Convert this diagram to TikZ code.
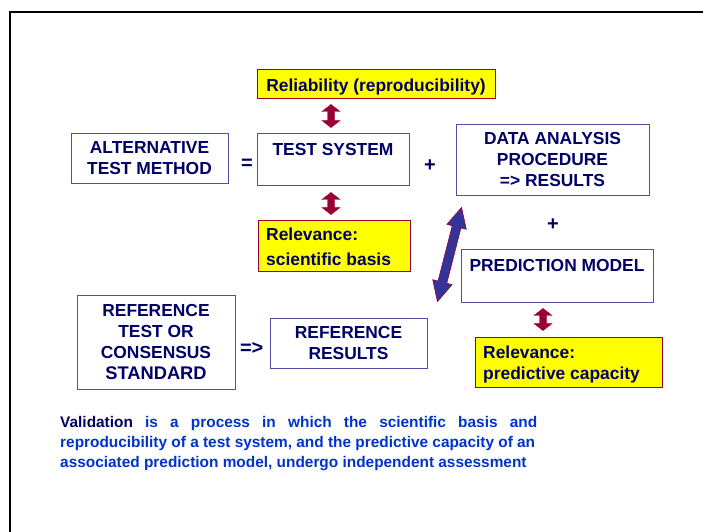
\documentclass[tikz,border=0pt]{standalone}
\usepackage{fontspec}
\setmainfont{Liberation Sans}
\usetikzlibrary{calc}

\definecolor{navy}{RGB}{0,0,102}
\definecolor{boxline}{RGB}{80,80,170}
\definecolor{darkred}{RGB}{153,0,51}
\definecolor{arrowblue}{RGB}{51,51,153}
\definecolor{textblue}{RGB}{0,51,204}
\definecolor{notebg}{RGB}{255,255,0}

\newcommand\boxfont{\fontsize{17.4}{21}\selectfont\bfseries}
\newcommand\bigboxfont{\fontsize{18.3}{21}\selectfont\bfseries}
\newcommand\symfont{\fontsize{20}{24}\selectfont\bfseries}
\newcommand\parfont{\fontsize{15.4}{20}\selectfont\bfseries}

% Fat double-headed arrow from #2 to #3:
% #1 style, #4 head length, #5 head half-width, #6 shaft half-width
\newcommand\fatdarrow[6]{%
  \filldraw[#1] (#2)
    -- ($(#2)!#4!(#3)!#5!90:(#3)$)
    -- ($(#2)!#4!(#3)!#6!90:(#3)$)
    -- ($(#3)!#4!(#2)!#6!-90:(#2)$)
    -- ($(#3)!#4!(#2)!#5!-90:(#2)$)
    -- (#3)
    -- ($(#3)!#4!(#2)!#5!90:(#2)$)
    -- ($(#3)!#4!(#2)!#6!90:(#2)$)
    -- ($(#2)!#4!(#3)!#6!-90:(#3)$)
    -- ($(#2)!#4!(#3)!#5!-90:(#3)$)
    -- cycle;}

\begin{document}
\begin{tikzpicture}[x=1pt,y=-1pt,
  box/.style={draw=boxline, line width=0.9pt, fill=white, inner sep=0pt,
              font=\boxfont, text=navy, align=center},
  notebox/.style={draw=darkred, line width=0.9pt, fill=notebg, inner sep=0pt},
  boxlabel/.style={inner sep=0pt, font=\boxfont, text=navy},
  sym/.style={inner sep=0pt, font=\symfont, text=navy, anchor=base},
  redarrow/.style={fill=darkred, draw=darkred, line width=0.4pt},
  bluearrow/.style={fill=arrowblue, draw=darkred, line width=0.6pt, line join=miter}]

\useasboundingbox (0,0) rectangle (703,531);
\fill[white] (0,0) rectangle (703,531);
% slide frame (only its top and left edges fall inside the page)
\draw[line width=2pt] (9.5,545) -- (9.5,11.5) -- (715,11.5);

% top row
\node[box, minimum width=157, minimum height=50] (atm) at (149.5,158) {ALTERNATIVE\\TEST METHOD};
\node[sym] (eq) at (247,169.5) {=};
\node[box, minimum width=152, minimum height=52] (ts) at (333,159) {};
\node[boxlabel, anchor=base] (tstext) at (333,155.7) {TEST SYSTEM};
\node[sym] (plus1) at (430,171) {+};
\node[box, minimum width=193, minimum height=71] (da) at (552.5,159.5) {DATA ANALYSIS\\PROCEDURE\\=> RESULTS};
\node[sym] (plus2) at (553,230) {+};
\node[box, minimum width=192, minimum height=53] (pm) at (557,275.5) {};
\node[boxlabel, anchor=base] (pmtext) at (557,271.7) {PREDICTION MODEL};

% yellow notes
\node[notebox, minimum width=238, minimum height=29] (rel) at (376,83.5) {};
\node[boxlabel, anchor=base] (reltext) at (376,91.7) {Reliability (reproducibility)};
\node[notebox, minimum width=152, minimum height=51] (rsb) at (334,245.5) {};
\node[boxlabel, anchor=base west] (rsbtext1) at (266,240) {Relevance:};
\node[boxlabel, anchor=base west] (rsbtext2) at (266,265) {scientific basis};
\node[notebox, minimum width=187, minimum height=50] (rpc) at (568.5,362) {};
\node[boxlabel, anchor=base west] (rpctext1) at (483,358) {Relevance:};
\node[boxlabel, anchor=base west] (rpctext2) at (483,379.5) {predictive capacity};

% reference row
\node[box, minimum width=158, minimum height=94] (ref) at (156,342)
  {REFERENCE\\TEST OR\\CONSENSUS\\{\bigboxfont STANDARD}};
\node[sym] (imp) at (251.7,354) {=>};
\node[box, minimum width=157, minimum height=50] (rr) at (348.5,343) {REFERENCE\\RESULTS};

% red double arrows
\coordinate (r1a) at ($(ts.north |- rel.south)+(-2,6)$);
\coordinate (r1b) at ($(ts.north)+(-2,-5)$);
\fatdarrow{redarrow}{r1a}{r1b}{7pt}{9pt}{3.3pt}
\coordinate (r2a) at ($(ts.south)+(-2,7)$);
\coordinate (r2b) at ($(ts.south |- rsb.north)+(-2,-5)$);
\fatdarrow{redarrow}{r2a}{r2b}{7pt}{9pt}{3.3pt}
\coordinate (r3a) at ($(pm.south)+(-14,6)$);
\coordinate (r3b) at ($(pm.south |- rpc.north)+(-14,-6)$);
\fatdarrow{redarrow}{r3a}{r3b}{7pt}{9pt}{3.3pt}

% blue double arrow
\coordinate (b1) at ($(da.south west)+(6,12)$);
\coordinate (b2) at ($(rr.north east)+(10,-16)$);
\fatdarrow{bluearrow}{b1}{b2}{20pt}{10pt}{4.5pt}

% definition text
\node[anchor=north west, inner sep=0pt, align=left, font=\parfont, text=textblue] (val) at (60,416)
  {\makebox[477pt][s]{\textcolor{navy}{Validation} is a process in which the scientific basis and}\\
   reproducibility of a test system, and the predictive capacity of an\\
   associated prediction model, undergo independent assessment};
\end{tikzpicture}
\end{document}
